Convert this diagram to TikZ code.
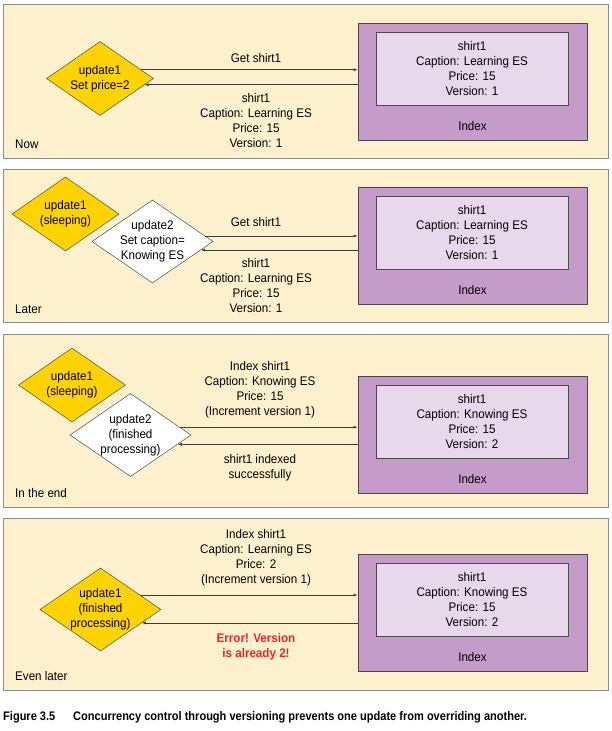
\documentclass[tikz,border=0pt]{standalone}
\usepackage{fontspec}
\setmainfont[FakeStretch=0.93]{Liberation Sans}
\newfontfamily\capfont[FakeStretch=0.89]{Liberation Sans}
\usetikzlibrary{shapes.geometric,arrows.meta}
\definecolor{panelbg}{HTML}{FDF1CD}
\definecolor{panelline}{HTML}{8C8C8C}
\definecolor{idxpurple}{HTML}{C59CC9}
\definecolor{recpurple}{HTML}{E7D9EB}
\definecolor{idxline}{HTML}{4A4A4A}
\definecolor{updyellow}{HTML}{FFD300}
\definecolor{arrline}{HTML}{3C3C3C}
\definecolor{errred}{HTML}{E8232A}

\begin{document}
\begin{tikzpicture}[x=1pt,y=1pt,
        every node/.style={inner sep=0pt,align=center,font=\fontsize{12.5}{15}\selectfont},
        panel/.style={draw=panelline,fill=panelbg,line width=0.8pt},
        index/.style={draw=idxline,fill=idxpurple,line width=0.8pt,minimum width=229pt,minimum height=117pt},
        record/.style={draw=idxline,fill=recpurple,line width=0.6pt,minimum width=192pt,minimum height=73pt},
        update/.style={diamond,draw=idxline,fill=updyellow,line width=0.5pt,minimum width=107pt,minimum height=74pt},
        bigupdate/.style={update,minimum width=121pt,minimum height=83pt},
        msg/.style={draw=arrline,line width=0.6pt,-{Latex[length=4pt,width=3pt]}},
        stage/.style={anchor=west},
        caption/.style={anchor=west,font=\capfont\bfseries\fontsize{12.4}{14}\selectfont}]
        \useasboundingbox (0,0) rectangle (611,-731);
        \draw [panel] (3,-4) rectangle (608,-158);
        \draw [panel] (3,-169) rectangle (608,-322);
        \draw [panel] (3,-334) rectangle (608,-507);
        \draw [panel] (3,-518) rectangle (608,-690);
        % Now
        \node [index] (idx1) at (472.5,-81.5) {};
        \node [record] (rec1) at (472,-68.5) {shirt1\\Caption: Learning ES\\Price: 15\\Version: 1};
        \node (lbl1) at ([yshift=14.5pt]idx1.south) {Index};
        \node [update,label=center:{update1\\Set price=2}] (upd1) at (100,-78.5) {};
        \draw [msg] (upd1.12) -- (upd1.12 -| idx1.west);
        \draw [msg] (upd1.-8 -| idx1.west) -- (upd1.-8);
        \node (get1) at (256,-58) {Get shirt1};
        \node (rep1) at (256,-121) {shirt1\\Caption: Learning ES\\Price: 15\\Version: 1};
        \node [stage] (now) at (15,-144) {Now};
        % Later
        \node [index] (idx2) at (472.5,-246) {};
        \node [record] (rec2) at (472,-233) {shirt1\\Caption: Learning ES\\Price: 15\\Version: 1};
        \node (lbl2) at ([yshift=14.5pt]idx2.south) {Index};
        \node [update,label=center:{update1\\(sleeping)}] (upd21) at (65.5,-214) {};
        \node [bigupdate,fill=white,label=center:{update2\\Set caption=\\Knowing ES}] (upd22) at (152.5,-241.5) {};
        \draw [msg] (upd22.6) -- (upd22.6 -| idx2.west);
        \draw [msg] (upd22.-10 -| idx2.west) -- (upd22.-10);
        \node (get2) at (256,-222) {Get shirt1};
        \node (rep2) at (256,-285.5) {shirt1\\Caption: Learning ES\\Price: 15\\Version: 1};
        \node [stage] (later) at (15,-309) {Later};
        % In the end
        \node [index] (idx3) at (472.5,-435) {};
        \node [record] (rec3) at (472,-421.5) {shirt1\\Caption: Knowing ES\\Price: 15\\Version: 2};
        \node (lbl3) at ([yshift=14.5pt]idx3.south) {Index};
        \node [update,label=center:{update1\\(sleeping)}] (upd31) at (72,-385) {};
        \node [bigupdate,fill=white,label=center:{update2\\(finished\\processing)}] (upd32) at (130.5,-435) {};
        \draw [msg] (upd32.9) -- (upd32.9 -| idx3.west);
        \draw [msg] (upd32.-11 -| idx3.west) -- (upd32.-11);
        \node (put3) at (260,-390) {Index shirt1\\Caption: Knowing ES\\Price: 15\\(Increment version 1)};
        \node (ok3) at (260,-468) {shirt1 indexed\\successfully};
        \node [stage] (end) at (15,-493) {In the end};
        % Even later
        \node [index] (idx4) at (472.5,-613) {};
        \node [record] (rec4) at (472,-600) {shirt1\\Caption: Knowing ES\\Price: 15\\Version: 2};
        \node (lbl4) at ([yshift=14.5pt]idx4.south) {Index};
        \node [bigupdate,label=center:{update1\\(finished\\processing)}] (upd4) at (100.5,-609.5) {};
        \draw [msg] (upd4.20) -- (upd4.20 -| idx4.west);
        \draw [msg] (upd4.-18 -| idx4.west) -- (upd4.-18);
        \node (put4) at (256,-558) {Index shirt1\\Caption: Learning ES\\Price: 2\\(Increment version 1)};
        \node [text=errred,font=\bfseries\fontsize{12.5}{15}\selectfont] (err4) at (256,-647) {Error! Version\\is already 2!};
        \node [stage] (evenlater) at (15,-676) {Even later};
        % caption
        \node [caption] (fig) at (3,-717) {Figure 3.5};
        \node [caption] (figtext) at (73,-717) {Concurrency control through versioning prevents one update from overriding another.};
\end{tikzpicture}
\end{document}
